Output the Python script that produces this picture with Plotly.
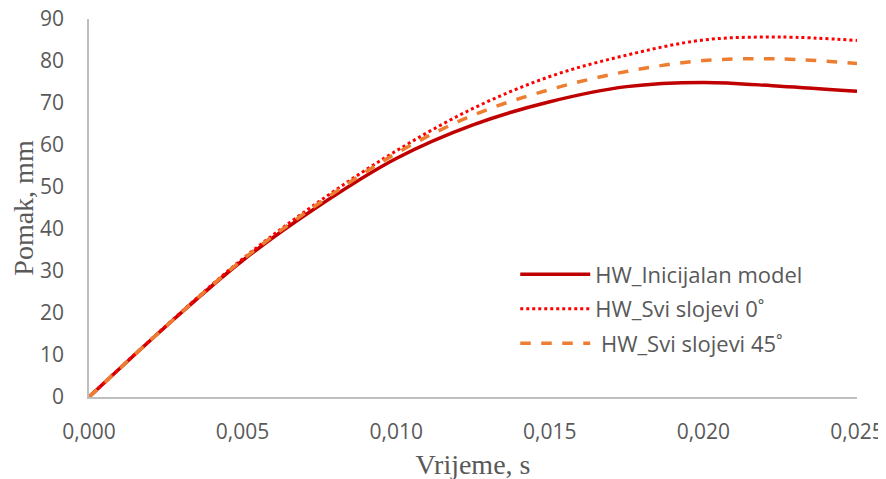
import plotly.graph_objects as go

time_s = [0.0, 0.0025, 0.005, 0.0075, 0.010, 0.0125, 0.015, 0.0175, 0.020, 0.0225, 0.025]
hw_initial = [0.0, 16.8, 32.5, 45.6, 56.8, 64.8, 70.3, 73.9, 74.9, 74.0, 72.8]
hw_0deg = [0.0, 16.9, 32.9, 46.6, 58.6, 68.7, 76.3, 81.4, 85.0, 85.7, 84.9]
hw_45deg = [0.0, 16.8, 32.7, 46.2, 58.0, 67.1, 73.2, 77.5, 80.1, 80.5, 79.4]

names = ["HW_Inicijalan model", "HW_Svi slojevi 0˚", "\u00a0HW_Svi slojevi 45˚"]

fig = go.Figure()
fig.add_trace(go.Scatter(x=time_s, y=hw_initial, mode="lines", name=names[0],
                         line=dict(color="#C00000", width=3.5, shape="spline"),
                         legendgroup="a"))
fig.add_trace(go.Scatter(x=time_s, y=hw_0deg, mode="lines", name=names[1],
                         line=dict(color="#FF0000", width=3, dash="dot", shape="spline"),
                         legendgroup="b"))
fig.add_trace(go.Scatter(x=time_s, y=hw_45deg, mode="lines", name=names[2],
                         line=dict(color="#ED7D31", width=3.5, dash="dash", shape="spline"),
                         legendgroup="c"))

tick_font = dict(family="Open Sans, Liberation Sans, sans-serif", size=21, color="#595959")
title_font = dict(family="Liberation Serif, Times New Roman, serif", size=28, color="#595959")

fig.update_layout(
    width=886, height=479,
    margin=dict(l=81, r=37, t=11, b=90),
    plot_bgcolor="white", paper_bgcolor="white",
    separators=", ",
    showlegend=True,
    legend=dict(x=0.555, y=0.38, xanchor="left", yanchor="top",
                font=dict(family="Open Sans, Liberation Sans, sans-serif", size=22, color="#595959"),
                tracegroupgap=3, itemwidth=70, bgcolor="rgba(0,0,0,0)"),
    xaxis=dict(range=[0, 0.025], tickvals=[0, 0.005, 0.010, 0.015, 0.020, 0.025],
               tickformat=".3f", showgrid=False, zeroline=False, automargin=False,
               showline=True, linecolor="#BFBFBF", linewidth=1.5,
               ticks="", tickfont=tick_font, ticklabelstandoff=15,
               ticklabeloverflow="allow",
               title=dict(text="Vrijeme, s", font=title_font, standoff=10)),
    yaxis=dict(range=[0, 90], dtick=10, showgrid=False, zeroline=False, automargin=False,
               showline=True, linecolor="#BFBFBF", linewidth=1.5,
               ticks="", tickfont=tick_font, ticklabelstandoff=19,
               ticklabeloverflow="allow",
               title=dict(text="Pomak, mm", font=title_font, standoff=14)),
)

fig.write_html("out.html")
